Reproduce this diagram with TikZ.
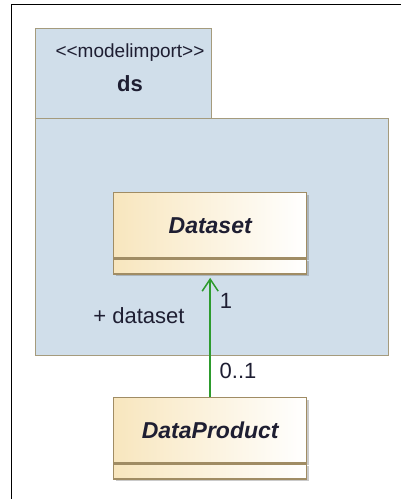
\documentclass[tikz,border=0pt]{standalone}
\usepackage{fontspec}
\setmainfont{Liberation Sans}
\usetikzlibrary{positioning,shadows,arrows.meta}
\definecolor{pkgblue}{RGB}{208,222,234}
\definecolor{pkgline}{RGB}{165,155,125}
\definecolor{clstan}{RGB}{248,230,190}
\definecolor{clsline}{RGB}{160,140,100}
\definecolor{assocgreen}{RGB}{45,155,45}
\definecolor{txtdark}{RGB}{30,30,50}
\tikzset{%
	pkg/.style={draw=pkgline,fill=pkgblue,line width=1.4pt,inner sep=0pt},
	clsshadow/.style={drop shadow={shadow xshift=2pt,shadow yshift=-2pt,opacity=0.35,fill=black!60}},
	clshead/.style={draw=clsline,line width=1.4pt,left color=clstan,right color=white,
		minimum width=193pt,minimum height=65pt,inner sep=0pt,clsshadow,
		font=\fontsize{23}{26}\selectfont\bfseries\itshape,text=txtdark},
	clsattr/.style={draw=clsline,line width=1.4pt,left color=clstan,right color=white,
		minimum width=193pt,minimum height=15pt,inner sep=0pt,clsshadow},
	assoc/.style={draw=assocgreen,line width=1.5pt,shorten >=3pt,
		-{Straight Barb[length=12pt,width=16pt,line width=1.5pt]}},
	rolelabel/.style={font=\fontsize{22}{24}\selectfont,text=txtdark,inner sep=0pt}
}
\begin{document}
\begin{tikzpicture}[x=1pt,y=-1pt]
	\useasboundingbox (0,0) rectangle (401,499);
	% diagram frame
	\draw[line width=1.5pt] (11.5,499) -- (11.5,4.5) -- (401,4.5);
	
	% package ds
	\node[pkg,minimum width=176pt,minimum height=90pt,anchor=north west] (dstab) at (35,28) {};
	\node[pkg,minimum width=353pt,minimum height=237pt,anchor=north west] (dsbody) at (35,118) {};
	\node[font=\fontsize{19}{21}\selectfont,text=txtdark,inner sep=0pt] (dsster) at (130,53) {<\kern0pt<modelimport>\kern0pt>};
	\node[font=\fontsize{22}{24}\selectfont\bfseries,text=txtdark,inner sep=0pt] (dsname) at (130,84) {ds};
	
	% classes
	\node[clshead,anchor=north west] (dataset) at (113,192) {Dataset};
	\node[clsattr,anchor=north] (datasetattr) at (dataset.south) {};
	\node[clshead,anchor=north west] (dataproduct) at (113,397) {DataProduct};
	\node[clsattr,anchor=north] (dataproductattr) at (dataproduct.south) {};
	
	% association
	\draw[assoc] (dataproduct.north) -- (datasetattr.south);
	\node[rolelabel] (multone) at (226,301) {1};
	\node[rolelabel] (rolename) at (139,316) {+ dataset};
	\node[rolelabel] (multopt) at (238,371) {0..1};
\end{tikzpicture}
\end{document}
